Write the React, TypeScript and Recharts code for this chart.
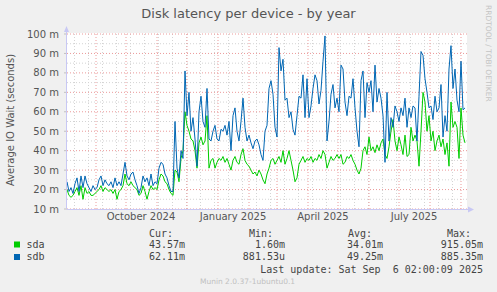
import { LineChart, Line, XAxis, YAxis, ReferenceLine } from 'recharts'

// daily-ish averages (every 2nd day), in milliseconds, starting 3 Aug 2024
const sda = [
  20, 17, 16, 17, 19, 21, 17, 22, 15, 21,
  18, 19, 17, 17, 18, 19, 20, 22, 19, 21,
  20, 19, 20, 18, 20, 15, 19, 20, 22, 28,
  23, 22, 24, 22, 21, 20, 17, 18, 22, 19,
  15, 19, 22, 20, 21, 20, 25, 28, 27, 24,
  23, 20, 18, 17, 30, 29, 24, 36, 40, 60,
  53, 50, 46, 45, 40, 31, 44, 47, 43, 45,
  58, 31, 35, 36, 31, 34, 36, 35, 37, 34,
  36, 33, 30, 35, 37, 34, 33, 38, 41, 35,
  33, 32, 30, 28, 29, 27, 30, 28, 25, 23,
  28, 31, 35, 36, 33, 35, 37, 34, 40, 33,
  36, 40, 35, 30, 24, 26, 33, 35, 37, 34,
  36, 35, 37, 34, 36, 35, 38, 36, 40, 38,
  31, 34, 37, 35, 36, 38, 36, 38, 33, 34,
  37, 36, 38, 35, 33, 30, 28, 31, 40, 42,
  38, 47, 40, 42, 39, 43, 40, 44, 46, 38,
  36, 42, 50, 56, 45, 40, 47, 43, 38, 48,
  37, 38, 52, 45, 48, 45, 32, 50, 70, 65,
  50, 58, 45, 50, 40, 45, 48, 42, 46, 38,
  44, 32, 65, 52, 55, 52, 36, 62, 48, 44,
]

const sdb = [
  24, 19, 21, 18, 23, 26, 19, 27, 21, 27,
  23, 21, 19, 22, 20, 21, 25, 27, 22, 25,
  23, 22, 24, 21, 26, 22, 24, 22, 28, 34,
  27, 25, 28, 29, 25, 22, 18, 21, 27, 24,
  26, 22, 28, 22, 24, 23, 31, 34, 33, 28,
  26, 22, 19, 19, 55, 31, 26, 40, 36, 81,
  58, 70, 50, 57, 46, 32, 60, 68, 55, 52,
  72, 46, 45, 50, 53, 46, 45, 51, 50, 53,
  48, 55, 40, 58, 62, 50, 45, 55, 67, 52,
  45, 48, 44, 41, 45, 46, 43, 38, 35, 50,
  53, 72, 76, 69, 52, 47, 93, 81, 87, 66,
  67, 57, 60, 51, 48, 58, 68, 67, 79, 57,
  77, 57, 63, 72, 79, 76, 64, 71, 86, 99,
  45, 55, 69, 74, 62, 67, 60, 84, 82, 65,
  58, 68, 67, 77, 62, 50, 42, 76, 81, 57,
  75, 70, 76, 60, 84, 65, 72, 67, 58, 34,
  70, 45, 57, 52, 63, 60, 55, 62, 58, 67,
  52, 62, 57, 63, 62, 45, 68, 91, 89, 77,
  70, 62, 63, 56, 68, 60, 62, 74, 47, 58,
  50, 82, 94, 72, 82, 66, 60, 86, 61, 62,
]

const labelDays = [74, 166, 256, 347]
const labelNames = ['October 2024', 'January 2025', 'April 2025', 'July 2025']
const monthStarts = [29, 59, 90, 120, 151, 182, 210, 241, 271, 302, 332, 363, 394]
const minorDays = Array.from({ length: 28 }, (_, i) => 7.5 + i * 14)
const yTicks = [10, 20, 30, 40, 50, 60, 70, 80, 90, 100]
const yMinor = [15, 25, 35, 45, 55, 65, 75, 85, 95]

const legend = [
  { name: 'sda', color: '#00cc00', cur: '43.57m', min: '1.60m', avg: '34.01m', max: '915.05m' },
  { name: 'sdb', color: '#0066b3', cur: '62.11m', min: '881.53u', avg: '49.25m', max: '885.35m' },
]

const rows = sdb.map((v, i) => ({ day: i * 2, sda: sda[i], sdb: v }))

const axisColor = '#c8c8f4'
const textColor = '#555'
const mono = '"DejaVu Sans Mono", monospace'

export default function App() {
  return (
    <div style={{ position: 'absolute', left: 0, top: 0, width: 497, height: 292, background: '#f0f0f0', fontFamily: '"DejaVu Sans", sans-serif' }}>
      <svg width={497} height={292} style={{ position: 'absolute', left: 0, top: 0 }}>
        <rect x={67} y={33} width={400} height={176} fill="#fff" />
      </svg>
      <div style={{ position: 'absolute', left: 0, top: 0 }}>
        <LineChart width={497} height={292} data={rows} margin={{ top: 34, right: 30, bottom: 63, left: 10 }} style={{ fontFamily: '"DejaVu Sans", sans-serif' }}>
          <XAxis
            dataKey="day" type="number" domain={[0, 400]} ticks={labelDays}
            tickFormatter={(v: number) => labelNames[labelDays.indexOf(v)] ?? ''}
            axisLine={false} tickLine={false} tickSize={0} tickMargin={4} height={20}
            tick={{ fill: textColor, fontSize: 10 }} interval={0}
          />
          <YAxis
            domain={[10, 100]} ticks={yTicks} width={57} axisLine={false}
            tickFormatter={(v: number) => `${v} m`} tickSize={3} tickMargin={5}
            tickLine={{ stroke: '#c0c0c0' }} tick={{ fill: textColor, fontSize: 10 }} interval={0}
            allowDataOverflow
          />
          {minorDays.map((d) => (
            <ReferenceLine key={'v' + d} x={d} stroke="#d4d4d4" strokeDasharray="1 2" />
          ))}
          {yMinor.map((v) => (
            <ReferenceLine key={'h' + v} y={v} stroke="#d4d4d4" strokeDasharray="1 2" />
          ))}
          {monthStarts.map((d) => (
            <ReferenceLine key={'m' + d} x={d} stroke="#eb9a9a" strokeDasharray="1 2" />
          ))}
          {yTicks.map((v) => (
            <ReferenceLine key={'y' + v} y={v} stroke="#eb9a9a" strokeDasharray="1 2" />
          ))}
          <Line type="linear" dataKey="sda" stroke="#00cc00" strokeWidth={1} dot={false} isAnimationActive={false} />
          <Line type="linear" dataKey="sdb" stroke="#0066b3" strokeWidth={1} dot={false} isAnimationActive={false} />
        </LineChart>
      </div>
      <svg width={497} height={292} style={{ position: 'absolute', left: 0, top: 0, pointerEvents: 'none' }}>
        <line x1={67} y1={209.5} x2={469} y2={209.5} stroke={axisColor} />
        <line x1={66.5} y1={209} x2={66.5} y2={31} stroke={axisColor} />
        <polygon points="64,32 69,32 66.5,26" fill={axisColor} />
        <polygon points="468,206.5 468,212.5 474,209.5" fill={axisColor} />
        <text x={248.5} y={18} textAnchor="middle" fontSize={13} fill={textColor}>Disk latency per device - by year</text>
        <text x={14} y={120} textAnchor="middle" fontSize={10} fill={textColor} transform="rotate(-90 14 120)">Average IO Wait (seconds)</text>
        <text x={486} y={5} fontSize={7.5} fill="#c4c4c4" transform="rotate(90 486 5)">RRDTOOL / TOBI OETIKER</text>
        <g fontFamily={mono} fontSize={10} fill="#444">
          <text x={149} y={236.5}>Cur:</text>
          <text x={249} y={236.5}>Min:</text>
          <text x={348} y={236.5}>Avg:</text>
          <text x={447} y={236.5}>Max:</text>
          {legend.map((r, i) => {
            const y = 247.5 + i * 12.5
            return (
              <g key={r.name}>
                <rect x={14} y={y - 6} width={6} height={6} fill={r.color} />
                <text x={26.5} y={y}>{r.name}</text>
                <text x={185} y={y} textAnchor="end">{r.cur}</text>
                <text x={285} y={y} textAnchor="end">{r.min}</text>
                <text x={383} y={y} textAnchor="end">{r.avg}</text>
                <text x={483} y={y} textAnchor="end">{r.max}</text>
              </g>
            )
          })}
          <text x={483} y={272.5} textAnchor="end" xmlSpace="preserve">{'Last update: Sat Sep \u00a06 02:00:09 2025'}</text>
        </g>
        <text x={247.5} y={284} textAnchor="middle" fontSize={7.5} fill="#c0c0c0">Munin 2.0.37-1ubuntu0.1</text>
      </svg>
    </div>
  )
}
